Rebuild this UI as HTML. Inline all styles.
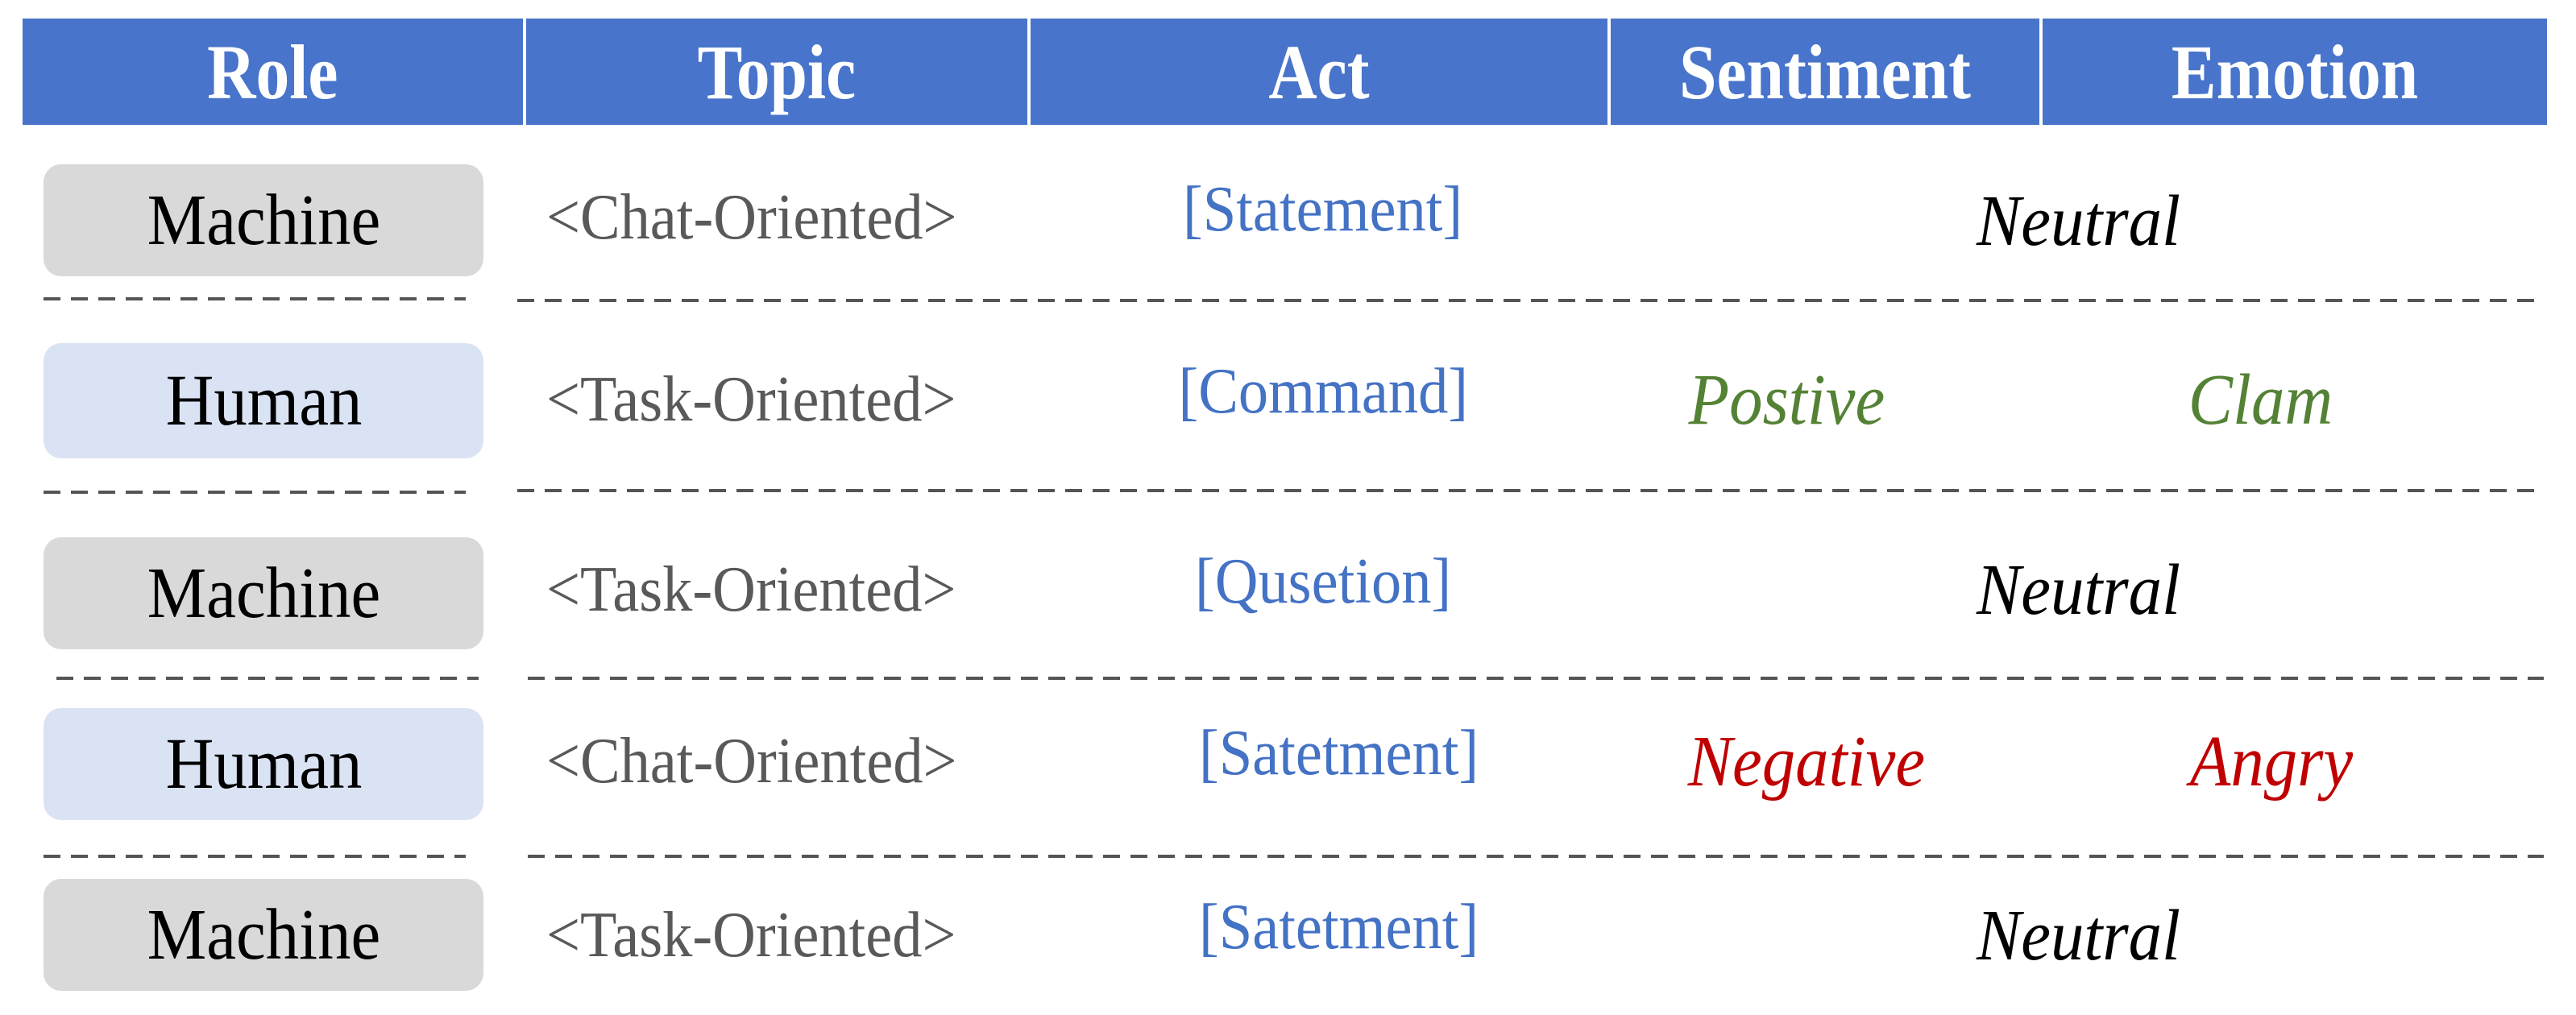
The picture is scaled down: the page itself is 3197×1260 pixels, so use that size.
<!DOCTYPE html>
<html><head><meta charset="utf-8"><style>
html,body{margin:0;padding:0;background:#fff;}
body{width:3197px;height:1260px;position:relative;overflow:hidden;font-family:"Liberation Serif",serif;}
.h{position:absolute;top:23px;height:132px;background:#4874CB;color:#fff;font-weight:bold;font-size:96px;display:flex;align-items:center;justify-content:center;}
.h span{display:inline-block;transform:scaleX(0.87);}
.box{position:absolute;left:54px;width:546px;border-radius:22px;display:flex;align-items:center;justify-content:center;font-size:90px;color:#000;}
.box span{display:inline-block;transform:scaleX(0.92);}
.g{background:#D9D9D9}.b{background:#DAE3F3}
.t{position:absolute;height:100px;line-height:100px;white-space:nowrap;}
.t span{display:inline-block;transform:scaleX(0.93);}
.tp{left:678px;font-size:80px;color:#595959;}
.tp span{transform-origin:left center;}
.ac{font-size:80px;color:#4472C4;width:600px;left:1342px;text-align:center;}
.c{font-size:90px;font-style:italic;text-align:center;width:600px;}
.c span{transform:scaleX(0.92);}
.d{position:absolute;height:4px;background:repeating-linear-gradient(90deg,#555 0 21px,transparent 21px 34px);}
</style></head><body>
<div class="h" style="left:28px;width:621px"><span>Role</span></div>
<div class="h" style="left:653px;width:622px"><span>Topic</span></div>
<div class="h" style="left:1279px;width:716px"><span>Act</span></div>
<div class="h" style="left:1999px;width:532px"><span>Sentiment</span></div>
<div class="h" style="left:2535px;width:626px"><span>Emotion</span></div>

<div class="box g" style="top:204px;height:139px"><span>Machine</span></div>
<div class="box b" style="top:426px;height:143px"><span>Human</span></div>
<div class="box g" style="top:667px;height:139px"><span>Machine</span></div>
<div class="box b" style="top:879px;height:139px"><span>Human</span></div>
<div class="box g" style="top:1091px;height:139px"><span>Machine</span></div>

<div class="t tp" style="top:220px"><span>&lt;Chat-Oriented&gt;</span></div>
<div class="t tp" style="top:446px"><span>&lt;Task-Oriented&gt;</span></div>
<div class="t tp" style="top:682px"><span>&lt;Task-Oriented&gt;</span></div>
<div class="t tp" style="top:895px"><span>&lt;Chat-Oriented&gt;</span></div>
<div class="t tp" style="top:1111px"><span>&lt;Task-Oriented&gt;</span></div>

<div class="t ac" style="top:210px"><span>[Statement]</span></div>
<div class="t ac" style="top:436px"><span>[Command]</span></div>
<div class="t ac" style="top:672px"><span>[Qusetion]</span></div>
<div class="t ac" style="top:885px;left:1362px"><span>[Satetment]</span></div>
<div class="t ac" style="top:1101px;left:1362px"><span>[Satetment]</span></div>

<div class="t c" style="top:225px;left:2280px;color:#000"><span>Neutral</span></div>
<div class="t c" style="top:447px;left:1917px;color:#548235"><span>Postive</span></div>
<div class="t c" style="top:447px;left:2506px;color:#548235"><span>Clam</span></div>
<div class="t c" style="top:683px;left:2280px;color:#000"><span>Neutral</span></div>
<div class="t c" style="top:896px;left:1942px;color:#C00000"><span>Negative</span></div>
<div class="t c" style="top:896px;left:2519px;color:#C00000"><span>Angry</span></div>
<div class="t c" style="top:1112px;left:2280px;color:#000"><span>Neutral</span></div>

<div class="d" style="top:369px;left:54px;width:524px"></div>
<div class="d" style="top:371px;left:642px;width:2515px"></div>
<div class="d" style="top:609px;left:54px;width:524px"></div>
<div class="d" style="top:607px;left:642px;width:2515px"></div>
<div class="d" style="top:840px;left:70px;width:524px"></div>
<div class="d" style="top:840px;left:655px;width:2502px"></div>
<div class="d" style="top:1061px;left:54px;width:524px"></div>
<div class="d" style="top:1061px;left:655px;width:2502px"></div>
</body></html>
